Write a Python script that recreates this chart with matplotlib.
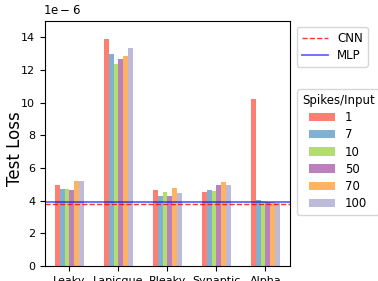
import matplotlib.pyplot as plt
import numpy as np

# neuron models and spike counts
neurons = ["Leaky", "Lapicque", "Rleaky", "Synaptic", "Alpha"]
spikes = ["1", "7", "10", "50", "70", "100"]

# test loss (x1e-6), one row per spikes/input setting
loss_1 = [4.95, 13.88, 4.65, 4.52, 10.2]
loss_7 = [4.69, 12.96, 4.28, 4.65, 4.03]
loss_10 = [4.69, 12.40, 4.52, 4.58, 4.01]
loss_50 = [4.63, 12.70, 4.28, 4.95, 3.90]
loss_70 = [5.20, 12.84, 4.77, 5.13, 3.90]
loss_100 = [5.20, 13.33, 4.46, 4.95, 3.88]
losses = [loss_1, loss_7, loss_10, loss_50, loss_70, loss_100]

cnn_loss = 3.80
mlp_loss = 3.93

colors = ["#fb8072", "#80b1d3", "#b3de69", "#bc80bd", "#fdb462", "#bebada"]

fig = plt.figure(figsize=(3.78, 2.81), dpi=100)
ax = fig.add_axes([0.119, 0.053, 0.648, 0.872])

x = np.arange(len(neurons))
w = 0.1
bars = []
for i, vals in enumerate(losses):
    b = ax.bar(x + (i - 2.5) * w, np.array(vals) * 1e-6, width=w,
               color=colors[i], label=spikes[i])
    bars.append(b)

cnn = ax.axhline(cnn_loss * 1e-6, color="red", ls="--", lw=1, alpha=0.8, label="CNN")
mlp = ax.axhline(mlp_loss * 1e-6, color="blue", ls="-", lw=1.3, alpha=0.6, label="MLP")

ax.set_xlim(-0.5, 4.5)
ax.set_ylim(0, 15e-6)
ax.set_yticks(np.arange(0, 15, 2) * 1e-6)
ax.ticklabel_format(axis="y", style="sci", scilimits=(-6, -6))
ax.yaxis.get_offset_text().set_visible(False)
ax.text(-0.01, 1.015, r"$\mathregular{1e-6}$", transform=ax.transAxes,
        fontsize=8.5, ha="left", va="bottom")
ax.set_xticks(x)
ax.set_xticklabels(neurons, fontsize=8)
ax.tick_params(axis="y", labelsize=8)
ax.set_ylabel("Test Loss", fontsize=12)
ax.yaxis.set_label_coords(-0.087, 0.48)

leg1 = ax.legend(handles=[cnn, mlp], loc="upper left", bbox_to_anchor=(1.005, 1.0),
                 fontsize=8.5, handlelength=2.2, labelspacing=0.35)
ax.add_artist(leg1)
ax.legend(handles=bars, title="Spikes/Input", loc="upper left",
          bbox_to_anchor=(1.005, 0.745), fontsize=8.5, title_fontsize=8.5,
          handlelength=2.2, labelspacing=0.35)

fig.savefig("out.png", dpi=100)
